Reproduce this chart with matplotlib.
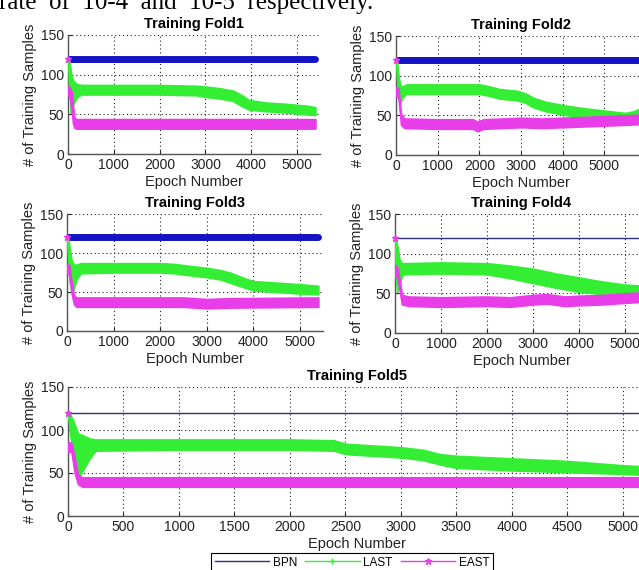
import matplotlib
matplotlib.use("Agg")
import matplotlib.pyplot as plt
from matplotlib.lines import Line2D

plt.rcParams['font.family'] = ['Liberation Sans', 'DejaVu Sans']

W, H = 639, 570

# values: epoch number vs. # of training samples
bpn_level = 120
east_first = 120

fold1_end = 5400
fold1_last_x = [0, 20, 40, 60, 80, 120, 200, 300, 1000, 2000, 2800, 3000, 3300, 3600, 3800, 3950, 4300, 4800, 5200, 5400]
fold1_last_hi = [122, 120, 112, 105, 98, 92, 88, 87, 87, 87, 86, 85, 83, 80, 74, 68, 65, 63, 61, 59]
fold1_last_lo = [118, 90, 70, 52, 55, 64, 72, 75, 75, 75, 74, 72, 70, 67, 60, 56, 54, 52, 50, 49]
fold1_east_x = [0, 40, 80, 110, 140, 180, 3000, 5400]
fold1_east_hi = [86, 84, 78, 60, 46, 44, 44, 44]
fold1_east_lo = [74, 72, 55, 38, 33, 32, 32, 32]

fold2_end = 6000
fold2_last_x = [0, 30, 60, 100, 150, 250, 1000, 2000, 2200, 2500, 2900, 3100, 3300, 3600, 4000, 4500, 5000, 5500, 5700, 5900]
fold2_last_hi = [122, 115, 100, 88, 86, 89, 89, 89, 87, 83, 81, 78, 72, 67, 63, 59, 56, 53, 55, 60]
fold2_last_lo = [118, 90, 72, 65, 72, 77, 77, 77, 75, 71, 69, 66, 60, 55, 51, 47, 44, 41, 43, 48]
fold2_east_x = [0, 60, 120, 200, 1000, 1850, 1950, 2100, 3000, 3500, 4000, 4500, 5000, 5500, 5900]
fold2_east_hi = [86, 84, 52, 46, 45, 45, 42, 45, 47, 46, 47, 48, 49, 50, 51]
fold2_east_lo = [74, 72, 38, 34, 33, 33, 30, 33, 35, 34, 35, 36, 37, 38, 39]

fold3_end = 5400
fold3_last_x = [0, 30, 60, 100, 150, 200, 300, 1000, 2000, 2300, 2700, 3000, 3300, 3500, 3800, 4000, 4500, 5000, 5400]
fold3_last_hi = [122, 118, 105, 90, 85, 85, 87, 87, 87, 86, 83, 81, 78, 75, 68, 64, 62, 60, 58]
fold3_last_lo = [118, 85, 62, 48, 55, 66, 74, 75, 75, 74, 71, 69, 66, 62, 56, 52, 50, 48, 47]
fold3_east_x = [0, 50, 100, 150, 200, 2500, 3000, 3500, 5400]
fold3_east_hi = [86, 84, 62, 46, 43, 43, 41, 42, 43]
fold3_east_lo = [74, 72, 48, 34, 31, 31, 29, 30, 31]

fold4_end = 5600
fold4_last_x = [0, 50, 100, 150, 200, 1000, 2000, 2500, 3000, 3500, 4000, 4500, 5000, 5300, 5600]
fold4_last_hi = [122, 110, 92, 88, 88, 89, 88, 85, 81, 75, 70, 65, 61, 60, 60]
fold4_last_lo = [80, 52, 60, 72, 74, 75, 74, 69, 63, 57, 52, 49, 46, 45, 45]
fold4_east_x = [0, 60, 150, 300, 1000, 2000, 2500, 3000, 3300, 3700, 4000, 4500, 5000, 5300, 5600]
fold4_east_hi = [86, 82, 48, 46, 45, 46, 45, 48, 49, 46, 47, 48, 50, 51, 51]
fold4_east_lo = [74, 68, 36, 34, 33, 34, 33, 36, 37, 34, 35, 36, 38, 39, 39]

fold5_end = 5300
fold5_last_x = [0, 20, 50, 90, 130, 200, 250, 1000, 2000, 2400, 2500, 3000, 3200, 3350, 3500, 4000, 4500, 5000, 5300]
fold5_last_hi = [122, 118, 110, 96, 94, 90, 89, 89, 89, 88, 84, 80, 77, 72, 70, 67, 64, 59, 57]
fold5_last_lo = [118, 95, 65, 44, 52, 68, 76, 77, 77, 76, 72, 68, 65, 60, 56, 53, 51, 49, 47]
fold5_east_x = [0, 30, 60, 90, 130, 5300]
fold5_east_hi = [86, 85, 68, 48, 45, 45]
fold5_east_lo = [74, 75, 50, 37, 34, 34]

titles = ['Training Fold1', 'Training Fold2', 'Training Fold3', 'Training Fold4', 'Training Fold5']
y_ticks = [0, 50, 100, 150]
small_x_ticks = [0, 1000, 2000, 3000, 4000, 5000]
wide_x_ticks = [0, 500, 1000, 1500, 2000, 2500, 3000, 3500, 4000, 4500, 5000]

# cropped line of the surrounding paper text (justified, hence the wide spaces)
caption = 'rate  of  10-4  and  10-5  respectively.'

GREEN = '#33ee33'
MAGENTA = '#ea3dea'
BLUE_THICK = '#1414c4'
BLUE_THIN = '#2e2e86'

fig = plt.figure(figsize=(W / 100, H / 100), dpi=100)

fig.text(-1 / W, 1 - 9 / H, caption, family='Liberation Serif', fontsize=18,
         va='baseline', ha='left')


def px_axes(left, top, right, bottom):
    return fig.add_axes([left / W, 1 - bottom / H, (right - left) / W, (bottom - top) / H])


panels = [
    # box in pixels, xlim, ticks, end, last, east, thick bpn
    ((68, 35, 320, 154), 5500, small_x_ticks, fold1_end,
     (fold1_last_x, fold1_last_lo, fold1_last_hi), (fold1_east_x, fold1_east_lo, fold1_east_hi), True),
    ((396, 36, 646, 155), 6000, small_x_ticks, fold2_end,
     (fold2_last_x, fold2_last_lo, fold2_last_hi), (fold2_east_x, fold2_east_lo, fold2_east_hi), True),
    ((67, 214, 323, 331), 5500, small_x_ticks, fold3_end,
     (fold3_last_x, fold3_last_lo, fold3_last_hi), (fold3_east_x, fold3_east_lo, fold3_east_hi), True),
    ((395, 214, 648, 333), 5500, small_x_ticks, fold4_end,
     (fold4_last_x, fold4_last_lo, fold4_last_hi), (fold4_east_x, fold4_east_lo, fold4_east_hi), False),
    ((68, 387, 645, 516), 5200, wide_x_ticks, fold5_end,
     (fold5_last_x, fold5_last_lo, fold5_last_hi), (fold5_east_x, fold5_east_lo, fold5_east_hi), False),
]

for title, (box, xmax, xt, end, last, east, thick) in zip(titles, panels):
    ax = px_axes(*box)
    ax.set_xlim(0, xmax)
    ax.set_ylim(0, 150)
    ax.set_xticks([t for t in xt if t <= xmax])
    ax.set_yticks(y_ticks)
    ax.grid(True, linestyle=(0, (1, 2.5)), color='#222222', lw=0.8)
    ax.set_axisbelow(True)
    for s in ('top', 'right'):
        ax.spines[s].set_visible(False)
    for s in ('left', 'bottom'):
        ax.spines[s].set_color('#555555')
        ax.spines[s].set_linewidth(1.0)
    ax.tick_params(direction='in', length=3, labelsize=10, pad=3, colors='#222222')

    if thick:
        ax.plot([0, end], [bpn_level, bpn_level], color=BLUE_THICK, lw=5,
                solid_capstyle='round', zorder=3)
    else:
        ax.plot([0, end], [bpn_level, bpn_level], color=BLUE_THIN, lw=1, zorder=3)

    lx, llo, lhi = last
    ax.fill_between(lx, llo, lhi, color=GREEN, lw=1.2, edgecolor=GREEN, zorder=4)
    ex, elo, ehi = east
    ax.fill_between(ex, elo, ehi, color=MAGENTA, lw=1.2, edgecolor=MAGENTA, zorder=5)
    ax.plot([0], [east_first], marker='*', color=MAGENTA, ms=5, zorder=6, clip_on=False)

    ax.set_title(title, fontweight='bold', fontsize=10.5, pad=5)
    ax.set_xlabel('Epoch Number', fontsize=10.5, labelpad=2, color='#222222')
    ax.set_ylabel('# of Training Samples', fontsize=10.5, labelpad=3, color='#222222')

handles = [
    Line2D([], [], color=BLUE_THIN, lw=1),
    Line2D([], [], color=GREEN, lw=1, marker='+', ms=5),
    Line2D([], [], color=MAGENTA, lw=1, marker='*', ms=5),
]
leg = fig.legend(handles, ['BPN', 'LAST', 'EAST'], loc='upper center',
                 bbox_to_anchor=(352 / W, 1 - 553 / H), ncol=3, frameon=True,
                 fancybox=False, edgecolor='black', framealpha=1, fontsize=8.5,
                 handlelength=4.6, columnspacing=0.7, handletextpad=0.3,
                 borderpad=0.3, borderaxespad=0)
leg.get_frame().set_linewidth(0.8)

fig.savefig('out.png', dpi=100)
